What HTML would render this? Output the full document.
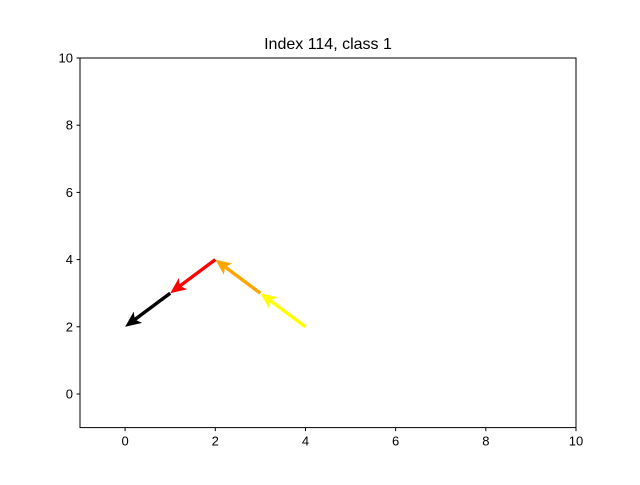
<!DOCTYPE html>
<html><head><meta charset="utf-8"><style>
body{margin:0;background:#fff;}
svg text{font-family:"Liberation Sans","DejaVu Sans",sans-serif;}
</style></head><body>
<svg id="chart" width="640" height="480" xmlns="http://www.w3.org/2000/svg">
<rect width="640" height="480" fill="#fff"/>
<text x="328" y="49" text-anchor="middle" font-size="16">Index 114, class 1</text>
<g id="ticks"></g>
<g id="arrows"></g>
<rect x="80" y="58" width="496" height="369.6" fill="none" stroke="#000" stroke-width="1"/>
</svg>
<script>
const xTicks=[0,2,4,6,8,10];
const yTicks=[0,2,4,6,8,10];
const startX=[4,3,2,1];
const startY=[2,3,4,3];
const endX=[3,2,1,0];
const endY=[3,4,3,2];
const colors=['yellow','orange','red','black'];
const names=['arrow-yellow','arrow-orange','arrow-red','arrow-black'];

const L=80,R=576,T=58,B=427.6,xmin=-1,xmax=10,ymin=-1,ymax=10;
const sx=v=>L+(v-xmin)/(xmax-xmin)*(R-L);
const sy=v=>B-(v-ymin)/(ymax-ymin)*(B-T);
const NS='http://www.w3.org/2000/svg';
const tg=document.getElementById('ticks');
function mk(tag,attrs,parent){const e=document.createElementNS(NS,tag);for(const k in attrs)e.setAttribute(k,attrs[k]);parent.appendChild(e);return e;}
xTicks.forEach(v=>{
  const l=mk('line',{x1:sx(v),x2:sx(v),y1:B,y2:B+3.5,stroke:'#000'},tg);
  
  
  const t=mk('text',{x:sx(v),y:B+18,'text-anchor':'middle','font-size':13},tg);
  t.textContent=v;
  
  
});
yTicks.forEach(v=>{
  const l=mk('line',{x1:L-3.5,x2:L,y1:sy(v),y2:sy(v),stroke:'#000'},tg);
  
  
  const t=mk('text',{x:L-7,y:sy(v)+4.5,'text-anchor':'end','font-size':13},tg);
  t.textContent=v;
  
  
});
const ag=document.getElementById('arrows');
startX.forEach((x0,i)=>{
  const X0=sx(x0),Y0=sy(startY[i]),X1=sx(endX[i]),Y1=sy(endY[i]);
  const dx=X1-X0,dy=Y1-Y0,len=Math.hypot(dx,dy),ux=dx/len,uy=dy/len,px=-uy,py=ux;
  const hl=16,hw=7,hb=13,sw=1.7;
  const bx=X1-ux*hl,by=Y1-uy*hl,cx=X1-ux*hb,cy=Y1-uy*hb;
  const pts=[[X0+px*sw,Y0+py*sw],[cx+px*sw,cy+py*sw],[bx+px*hw,by+py*hw],[X1,Y1],[bx-px*hw,by-py*hw],[cx-px*sw,cy-py*sw],[X0-px*sw,Y0-py*sw]];
  const p=mk('polygon',{points:pts.map(q=>q.join(',')).join(' '),fill:colors[i]},ag);
  
  
});
</script>
</body></html>
